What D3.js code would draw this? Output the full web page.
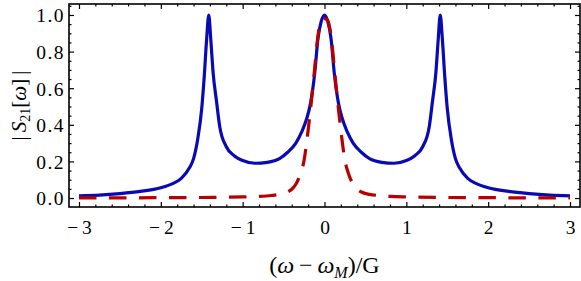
<!DOCTYPE html>
<html>
<head>
<meta charset="utf-8">
<script src="https://cdn.jsdelivr.net/npm/d3@7"></script>
<style>
  html, body { margin: 0; padding: 0; background: #fff; }
  svg { display: block; }
</style>
</head>
<body>
<script>
// values
const blueX = [-3, -2.75, -2.5, -2.25, -2, -1.85, -1.75, -1.65, -1.6, -1.55, -1.5, -1.47, -1.44, -1.414,
  -1.39, -1.36, -1.32, -1.28, -1.2, -1.1, -1, -0.85, -0.7, -0.55, -0.45, -0.35, -0.28, -0.22, -0.17,
  -0.12, -0.08, -0.04, 0, 0.04, 0.08, 0.12, 0.17, 0.22, 0.28, 0.35, 0.45, 0.55, 0.7, 0.85, 1, 1.1,
  1.2, 1.28, 1.32, 1.36, 1.39, 1.414, 1.44, 1.47, 1.5, 1.55, 1.6, 1.65, 1.75, 1.85, 2, 2.25, 2.5, 2.75, 3];
const blueY = [0.012, 0.016, 0.024, 0.036, 0.056, 0.08, 0.107, 0.165, 0.215, 0.32, 0.49, 0.66, 0.87, 1.0,
  0.87, 0.68, 0.53, 0.39, 0.28, 0.23, 0.205, 0.19, 0.195, 0.215, 0.25, 0.30, 0.36, 0.43, 0.52,
  0.68, 0.87, 0.965, 1.0, 0.965, 0.87, 0.68, 0.52, 0.43, 0.36, 0.30, 0.25, 0.215, 0.195, 0.19, 0.205, 0.23,
  0.28, 0.39, 0.53, 0.68, 0.87, 1.0, 0.87, 0.66, 0.49, 0.32, 0.215, 0.165, 0.107, 0.08, 0.056, 0.036, 0.024, 0.016, 0.012];

const redX = [-3, -2.5, -2, -1.5, -1, -0.8, -0.65, -0.55, -0.45, -0.4, -0.35, -0.3, -0.25, -0.2, -0.16,
  -0.12, -0.09, -0.06, -0.03, 0, 0.03, 0.06, 0.09, 0.12, 0.16, 0.2, 0.25, 0.3, 0.35, 0.4, 0.45, 0.55,
  0.65, 0.8, 1, 1.5, 2, 2.5, 3];
const redY = [0.001, 0.001, 0.002, 0.003, 0.006, 0.009, 0.014, 0.02, 0.033, 0.048, 0.075, 0.125, 0.205, 0.37, 0.53,
  0.71, 0.85, 0.94, 0.975, 0.98, 0.975, 0.94, 0.85, 0.71, 0.53, 0.37, 0.205, 0.125, 0.075, 0.048, 0.033, 0.02,
  0.014, 0.009, 0.006, 0.003, 0.002, 0.001, 0.001];

const xMajor = [-3, -2, -1, 0, 1, 2, 3];
const yMajor = [0, 0.2, 0.4, 0.6, 0.8, 1.0];

const width = 581;
const height = 281;
const frame = { left: 69, right: 580, top: 4, bottom: 207 };
const serif = '"Liberation Serif", "Times New Roman", serif';

const x = d3.scaleLinear().domain([-3.122, 3.122]).range([frame.left, frame.right]);
const y = d3.scaleLinear().domain([-0.049, 1.06]).range([frame.bottom, frame.top]);

const xMinor = d3.range(-3, 3.01, 0.2).map(d => +d.toFixed(1)).filter(d => !xMajor.includes(d));
const yMinor = d3.range(0, 1.051, 0.05).map(d => +d.toFixed(2)).filter(d => !yMajor.includes(d));

const svg = d3.select('body').append('svg')
  .attr('width', width)
  .attr('height', height)
  .style('font-family', serif);

svg.append('rect').attr('width', width).attr('height', height).attr('fill', '#fff');

const fmtX = d => (d < 0 ? '\u2212\u2009' + Math.abs(d) : String(d));
const fmtY = d3.format('.1f');

// curves
const blueData = blueX.map((d, i) => [d, blueY[i]]);
const redData = redX.map((d, i) => [d, redY[i]]);
const line = d3.line().x(d => x(d[0])).y(d => y(d[1])).curve(d3.curveMonotoneX);

svg.append('path')
  .datum(blueData)
  .attr('fill', 'none')
  .attr('stroke', '#0a0ab4')
  .attr('stroke-width', 3.2)
  .attr('stroke-linejoin', 'round')
  .attr('d', line);

svg.append('path')
  .datum(redData)
  .attr('fill', 'none')
  .attr('stroke', '#b80000')
  .attr('stroke-width', 3.2)
  .attr('stroke-dasharray', '17.5,12.5')
  .attr('d', line);

// frame with inward ticks on every side
const axes = svg.append('g').attr('class', 'axes');

function styleAxis(g) {
  g.attr('font-family', null).attr('font-size', null);
  g.select('.domain').remove();
  g.selectAll('line').attr('stroke', '#000').attr('stroke-width', 1.2);
  g.selectAll('text').attr('fill', '#000').style('font-family', serif).style('font-size', '19.5px');
}

axes.append('g')
  .attr('transform', `translate(0,${frame.bottom})`)
  .call(d3.axisBottom(x).tickValues(xMajor).tickSize(-5).tickFormat(fmtX))
  .call(styleAxis)
  .call(g => g.selectAll('text').attr('y', 20).attr('dy', '0.35em'));
axes.append('g')
  .attr('transform', `translate(0,${frame.bottom})`)
  .call(d3.axisBottom(x).tickValues(xMinor).tickSize(-2.5).tickFormat(''))
  .call(styleAxis);
axes.append('g')
  .attr('transform', `translate(0,${frame.top})`)
  .call(d3.axisTop(x).tickValues(xMajor).tickSize(-5).tickFormat(''))
  .call(styleAxis);
axes.append('g')
  .attr('transform', `translate(0,${frame.top})`)
  .call(d3.axisTop(x).tickValues(xMinor).tickSize(-2.5).tickFormat(''))
  .call(styleAxis);

axes.append('g')
  .attr('transform', `translate(${frame.left},0)`)
  .call(d3.axisLeft(y).tickValues(yMajor).tickSize(-5).tickFormat(fmtY))
  .call(styleAxis)
  .call(g => g.selectAll('text').attr('x', -4).attr('dy', '0.35em').style('letter-spacing', '1.5px'));
axes.append('g')
  .attr('transform', `translate(${frame.left},0)`)
  .call(d3.axisLeft(y).tickValues(yMinor).tickSize(-2.5).tickFormat(''))
  .call(styleAxis);
axes.append('g')
  .attr('transform', `translate(${frame.right},0)`)
  .call(d3.axisRight(y).tickValues(yMajor).tickSize(-5).tickFormat(''))
  .call(styleAxis);
axes.append('g')
  .attr('transform', `translate(${frame.right},0)`)
  .call(d3.axisRight(y).tickValues(yMinor).tickSize(-2.5).tickFormat(''))
  .call(styleAxis);

axes.append('rect')
  .attr('x', frame.left)
  .attr('y', frame.top)
  .attr('width', frame.right - frame.left)
  .attr('height', frame.bottom - frame.top)
  .attr('fill', 'none')
  .attr('stroke', '#000')
  .attr('stroke-width', 1.6);

// axis titles
const xTitle = svg.append('text')
  .attr('x', (frame.left + frame.right) / 2)
  .attr('y', 273)
  .attr('text-anchor', 'middle')
  .style('font-size', '24px')
  .attr('fill', '#000');
xTitle.append('tspan').text('(');
xTitle.append('tspan').style('font-style', 'italic').text('\u03c9');
xTitle.append('tspan').text('\u2009\u2212\u2009');
xTitle.append('tspan').style('font-style', 'italic').text('\u03c9');
xTitle.append('tspan').style('font-style', 'italic').style('font-size', '16px').attr('dy', 5).text('M');
xTitle.append('tspan').attr('dy', -5).text(')/G');

const yTitle = svg.append('text')
  .attr('transform', `translate(26,${(frame.top + frame.bottom) / 2}) rotate(-90)`)
  .attr('text-anchor', 'middle')
  .style('font-size', '21px')
  .attr('fill', '#000');
yTitle.append('tspan').text('|\u2009');
yTitle.append('tspan').style('font-style', 'italic').text('S');
yTitle.append('tspan').style('font-size', '14px').attr('dy', 4).text('21');
yTitle.append('tspan').attr('dy', -4).text('[');
yTitle.append('tspan').style('font-style', 'italic').text('\u03c9');
yTitle.append('tspan').text(']\u2009|');
</script>
</body>
</html>
